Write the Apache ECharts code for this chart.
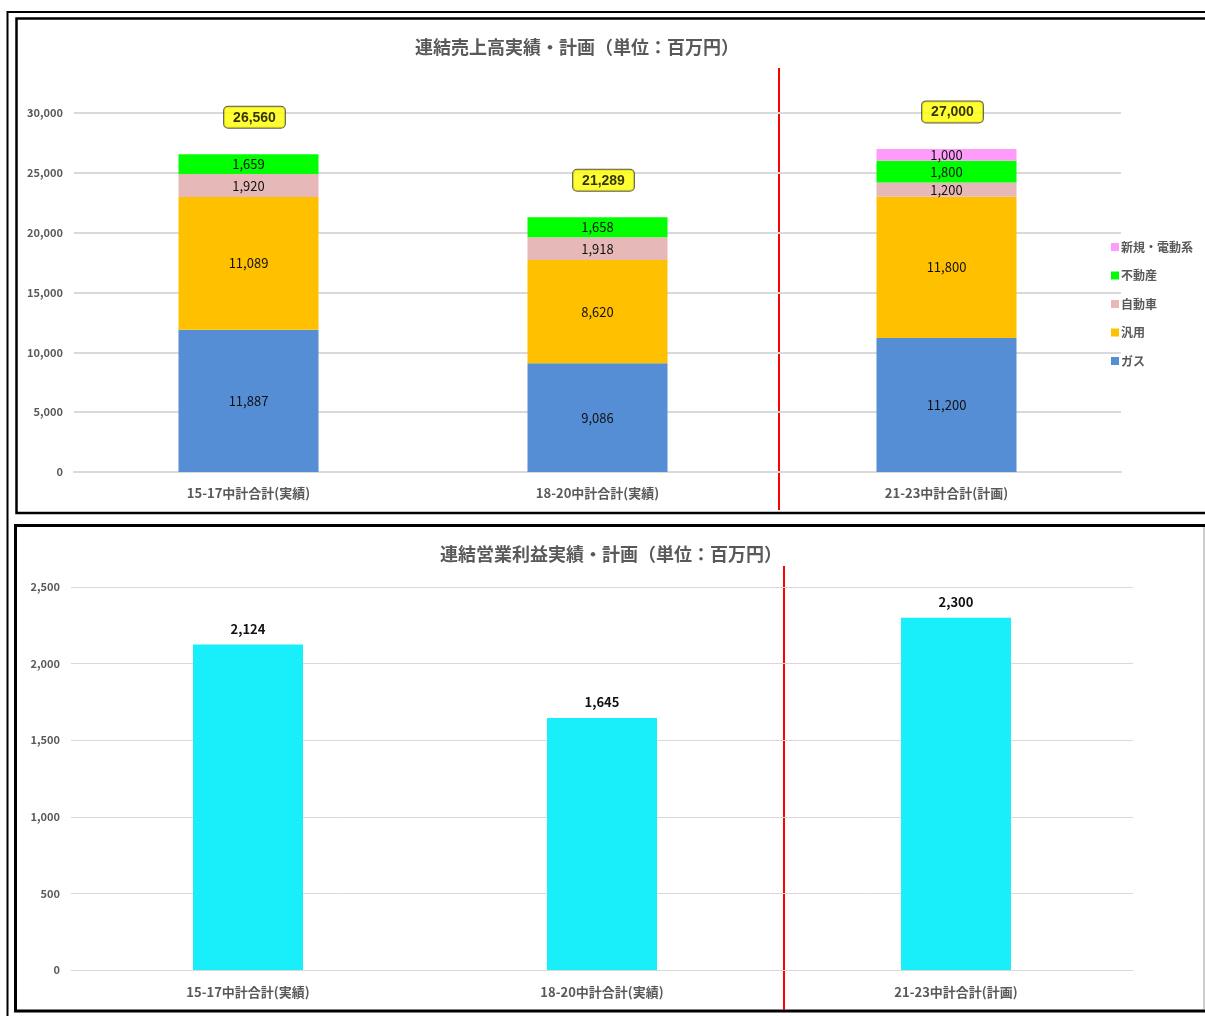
<!DOCTYPE html>
<html><head><meta charset="utf-8">
<style>html,body{margin:0;padding:0;background:#fff;}#c{width:1205px;height:1016px;}</style>
<script src="https://cdn.jsdelivr.net/npm/echarts@6/dist/echarts.min.js"></script>
</head><body><div id="c"></div>
<script>
const categories = ['15-17中計合計(実績)', '18-20中計合計(実績)', '21-23中計合計(計画)'];
const gas = [11887, 9086, 11200];
const hanyou = [11089, 8620, 11800];
const jidousha = [1920, 1918, 1200];
const fudousan = [1659, 1658, 1800];
const shinki = [null, null, 1000];
const salesTotals = [26560, 21289, 27000];
const profit = [2124, 1645, 2300];
const salesTicks = { min: 0, max: 30000, interval: 5000 };
const profitTicks = { min: 0, max: 2500, interval: 500 };

const FONT = '"Noto Sans CJK JP", "Noto Sans", sans-serif';
const chart = echarts.init(document.getElementById('c'), null, { renderer: 'canvas' });

const segLabel = { show: true, position: 'inside', color: '#111', fontSize: 13, fontFamily: FONT };
function stackSeries(name, data, color) {
  return { name, type: 'bar', stack: 's', xAxisIndex: 0, yAxisIndex: 0, barWidth: 140, data,
    itemStyle: { color }, label: Object.assign({ formatter: p => p.value == null ? '' : p.value.toLocaleString('en-US') }, segLabel) };
}

const option = {
  animation: false,
  textStyle: { fontFamily: FONT },
  title: [
    { text: '連結売上高実績・計画（単位：百万円）', left: 415, top: 38, padding: 0,
      textStyle: { fontSize: 18, fontWeight: 'bold', color: '#595959', fontFamily: FONT } },
    { text: '連結営業利益実績・計画（単位：百万円）', left: 440, top: 545, padding: 0,
      textStyle: { fontSize: 18, fontWeight: 'bold', color: '#595959', fontFamily: FONT } }
  ],
  legend: {
    orient: 'vertical', left: 1111, top: 240, itemWidth: 8, itemHeight: 8, itemGap: 14.5, padding: 0,
    icon: 'rect',
    data: ['新規・電動系', '不動産', '自動車', '汎用', 'ガス'],
    textStyle: { fontSize: 12, fontWeight: 'bold', color: '#595959', lineHeight: 14, padding: [0, 0, 0, -3] }
  },
  grid: [
    { left: 74, right: 84, top: 113, bottom: 544 },
    { left: 71, right: 72, top: 587, bottom: 46 }
  ],
  xAxis: [0, 1].map(i => ({
    type: 'category', gridIndex: i, data: categories,
    axisTick: { show: false },
    axisLine: { lineStyle: { color: '#D9D9D9', width: i === 0 ? 2 : 1 } },
    axisLabel: { margin: i === 0 ? 15 : 16, fontSize: 13, fontWeight: 'bold', color: '#595959', fontFamily: FONT }
  })),
  yAxis: [
    { type: 'value', gridIndex: 0, min: salesTicks.min, max: salesTicks.max, interval: salesTicks.interval,
      axisLine: { show: false }, axisTick: { show: false },
      splitLine: { lineStyle: { color: '#D9D9D9', width: 2 } },
      axisLabel: { margin: 11, fontSize: 11, color: '#595959', fontWeight: 'bold', fontFamily: FONT } },
    { type: 'value', gridIndex: 1, min: profitTicks.min, max: profitTicks.max, interval: profitTicks.interval,
      axisLine: { show: false }, axisTick: { show: false },
      splitLine: { lineStyle: { color: '#D9D9D9', width: 1 } },
      axisLabel: { margin: 11, fontSize: 11, color: '#595959', fontWeight: 'bold', fontFamily: FONT } }
  ],
  series: [
    stackSeries('ガス', gas, '#558ED5'),
    stackSeries('汎用', hanyou, '#FFC000'),
    stackSeries('自動車', jidousha, '#E6B9B8'),
    stackSeries('不動産', fudousan, '#00FF00'),
    stackSeries('新規・電動系', shinki, '#FF9CFA'),
    { name: 'total', type: 'scatter', xAxisIndex: 0, yAxisIndex: 0, data: salesTotals,
      symbolSize: 1, itemStyle: { color: 'rgba(0,0,0,0)' }, silent: true,
      label: { show: true, position: 'top', distance: 26, offset: [6, 0], formatter: p => p.value.toLocaleString('en-US'),
        color: '#000', fontSize: 14, fontWeight: 'bold', fontFamily: '"Liberation Sans", Arial, sans-serif',
        backgroundColor: '#FFFF00', borderColor: '#333', borderWidth: 1, borderRadius: 4, padding: [4, 9, 3, 9] } },
    { name: '営業利益', type: 'bar', xAxisIndex: 1, yAxisIndex: 1, barWidth: 110, data: profit,
      itemStyle: { color: '#19EFFA' },
      label: { show: true, position: 'top', distance: 9, formatter: p => p.value.toLocaleString('en-US'),
        color: '#111', fontSize: 13, fontWeight: 'bold', fontFamily: FONT } }
  ],
  graphic: [
    { type: 'polyline', shape: { points: [[7.5, 1016], [7.5, 12], [1205, 12]] }, style: { stroke: '#000', lineWidth: 2, fill: null } },
    { type: 'rect', shape: { x: 16.5, y: 18.5, width: 1200, height: 494.5 }, style: { stroke: '#000', lineWidth: 2.5, fill: null } },
    { type: 'rect', shape: { x: 15.5, y: 525.5, width: 1200, height: 485.5 }, style: { stroke: '#000', lineWidth: 3, fill: null } },
    { type: 'line', shape: { x1: 1204, y1: 527, x2: 1204, y2: 1009 }, style: { stroke: '#999', lineWidth: 1 } },
    { type: 'line', shape: { x1: 779, y1: 68, x2: 779, y2: 510 }, style: { stroke: '#FF0000', lineWidth: 2 } },
    { type: 'line', shape: { x1: 784, y1: 566, x2: 784, y2: 1010 }, style: { stroke: '#FF0000', lineWidth: 2 } }
  ]
};
chart.setOption(option);
</script></body></html>
